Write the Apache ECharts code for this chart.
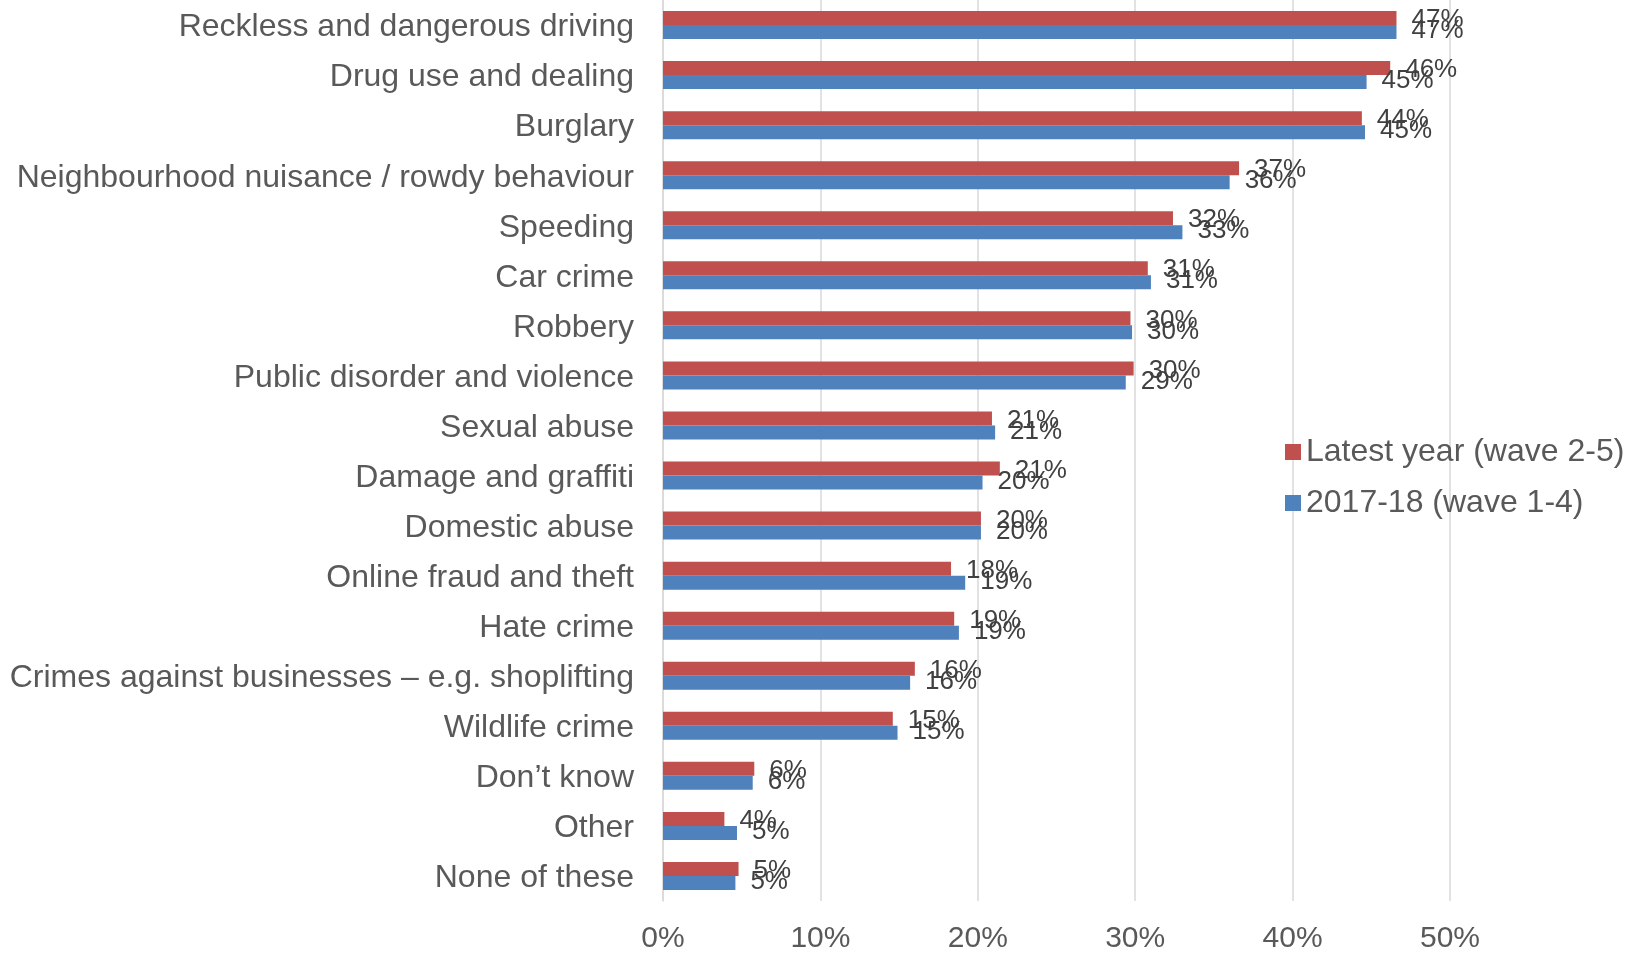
<!DOCTYPE html>
<html>
<head>
<meta charset="utf-8">
<script src="https://cdn.jsdelivr.net/npm/echarts@6/dist/echarts.min.js"></script>
<style>
html,body{margin:0;padding:0;background:#fff;}
#chart{width:1633px;height:954px;}
</style>
</head>
<body>
<div id="chart"></div>
<script>
const categories = [
  "Reckless and dangerous driving",
  "Drug use and dealing",
  "Burglary",
  "Neighbourhood nuisance / rowdy behaviour",
  "Speeding",
  "Car crime",
  "Robbery",
  "Public disorder and violence",
  "Sexual abuse",
  "Damage and graffiti",
  "Domestic abuse",
  "Online fraud and theft",
  "Hate crime",
  "Crimes against businesses \u2013 e.g. shoplifting",
  "Wildlife crime",
  "Don\u2019t know",
  "Other",
  "None of these"
];
const latestYear = [46.6, 46.2, 44.4, 36.6, 32.4, 30.8, 29.7, 29.9, 20.9, 21.4, 20.2, 18.3, 18.5, 16.0, 14.6, 5.8, 3.9, 4.8];
const year2017 = [46.6, 44.7, 44.6, 36.0, 33.0, 31.0, 29.8, 29.4, 21.1, 20.3, 20.2, 19.2, 18.8, 15.7, 14.9, 5.7, 4.7, 4.6];
const seriesNames = ["Latest year (wave 2-5)", "2017-18 (wave 1-4)"];
const xTicks = {min: 0, max: 50, interval: 10};

const font = "Liberation Sans, Arial, sans-serif";
const chart = echarts.init(document.getElementById('chart'), null, {renderer: 'canvas'});
function labelCfg(dy) {
  return {
    show: true,
    position: 'right',
    distance: 15,
    offset: [0, dy],
    fontSize: 26,
    fontFamily: font,
    color: '#404040',
    formatter: p => Math.round(p.value) + '%'
  };
}
chart.setOption({
  animation: false,
  backgroundColor: '#ffffff',
  textStyle: {fontFamily: font},
  grid: {left: 663, right: 183, top: 0, bottom: 52, containLabel: false},
  legend: {
    orient: 'vertical',
    left: 1280,
    top: 431,
    itemWidth: 16,
    itemHeight: 16,
    itemGap: 19,
    icon: 'rect',
    textStyle: {fontSize: 32, color: '#595959', fontFamily: font, lineHeight: 32},
    data: seriesNames
  },
  xAxis: {
    type: 'value',
    min: xTicks.min,
    max: xTicks.max,
    interval: xTicks.interval,
    axisLabel: {formatter: '{value}%', fontSize: 30, color: '#595959', margin: 23, fontFamily: font},
    axisLine: {show: false},
    axisTick: {show: false},
    splitLine: {show: true, lineStyle: {color: '#d9d9d9', width: 1.5}}
  },
  yAxis: {
    type: 'category',
    inverse: true,
    data: categories,
    axisLabel: {
      fontSize: 32, color: '#595959', margin: 29, fontFamily: font,
      formatter: v => '{c|' + v + '}',
      rich: {c: {fontSize: 32, color: '#595959', fontFamily: font, padding: [5, 0, 0, 0]}}
    },
    axisTick: {show: false},
    axisLine: {show: true, lineStyle: {color: '#d9d9d9', width: 1.5}}
  },
  series: [
    {
      name: seriesNames[0],
      type: 'bar',
      data: latestYear,
      barWidth: 14,
      barGap: '0%',
      itemStyle: {color: '#C0504D'},
      label: labelCfg(2)
    },
    {
      name: seriesNames[1],
      type: 'bar',
      data: year2017,
      barWidth: 14,
      barGap: '0%',
      itemStyle: {color: '#4F81BD'},
      label: labelCfg(-1)
    }
  ]
});
</script>
</body>
</html>
